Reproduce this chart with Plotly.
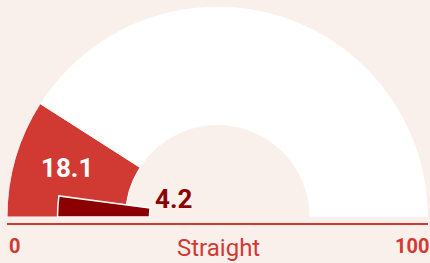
import plotly.graph_objects as go

# ---- data ----
title = "Straight"
scale_min = 0
scale_max = 100
outer_value = 18.1
inner_value = 4.2
tick_labels = ["0", "100"]

# ---- style ----
W, H = 430, 263
BG = "#f9f0eb"
RED = "#d13a33"
DARK = "#8b0000"
FONT = "Roboto, sans-serif"

cx, cy, R = 217.5, 217, 210.5  # pixel geometry of the gauge


def deg(v):
    return (v - scale_min) / (scale_max - scale_min) * 180.0


fig = go.Figure()
# white background arc
fig.add_trace(go.Barpolar(theta=[90], width=[180], base=[92], r=[118.5],
                          marker=dict(color="white", line=dict(width=0)),
                          hoverinfo="skip", showlegend=False))
# outer value arc
fig.add_trace(go.Barpolar(theta=[deg(outer_value) / 2], width=[deg(outer_value)],
                          base=[92], r=[118.5],
                          marker=dict(color=RED, line=dict(color="white", width=1)),
                          hoverinfo="skip", showlegend=False))
# inner value arc
fig.add_trace(go.Barpolar(theta=[deg(inner_value) / 2], width=[deg(inner_value)],
                          base=[68], r=[92],
                          marker=dict(color=DARK, line=dict(color="white", width=1.5)),
                          hoverinfo="skip", showlegend=False))


def px(x):
    return x / W


def py(y):
    return 1 - y / H


def label(text, x, y, size, color):
    return dict(text=text, x=px(x), y=py(y), xref="paper", yref="paper",
                xanchor="center", yanchor="middle", showarrow=False,
                font=dict(family=FONT, size=size, color=color))


fig.update_layout(
    width=W, height=H,
    margin=dict(l=0, r=0, t=0, b=0),
    paper_bgcolor=BG, plot_bgcolor=BG,
    polar=dict(
        domain=dict(x=[px(cx - R), px(cx + R)], y=[py(cy), py(cy - R)]),
        sector=[0, 180],
        bgcolor="rgba(0,0,0,0)",
        hole=0,
        barmode="overlay",
        angularaxis=dict(direction="clockwise", rotation=180, visible=False,
                         showgrid=False),
        radialaxis=dict(range=[0, R], visible=False, showgrid=False),
    ),
    shapes=[dict(type="line", xref="paper", yref="paper",
                 x0=px(7), x1=px(428), y0=py(224), y1=py(224),
                 line=dict(color=RED, width=2))],
    annotations=[
        label(f"<b>{outer_value}</b>", 67, 168, 26, "white"),
        label(f"<b>{inner_value}</b>", 173, 199, 26, DARK),
        label(f"<b>{tick_labels[0]}</b>", 14, 246, 20, RED),
        label(f"<b>{tick_labels[1]}</b>", 412, 246, 20, RED),
        label(title, 218, 248, 24, RED),
    ],
)

fig.write_html("out.html",
               config={"displayModeBar": False},
               post_script="document.body.style.margin='0';"
                           "document.body.style.background='" + BG + "';")
